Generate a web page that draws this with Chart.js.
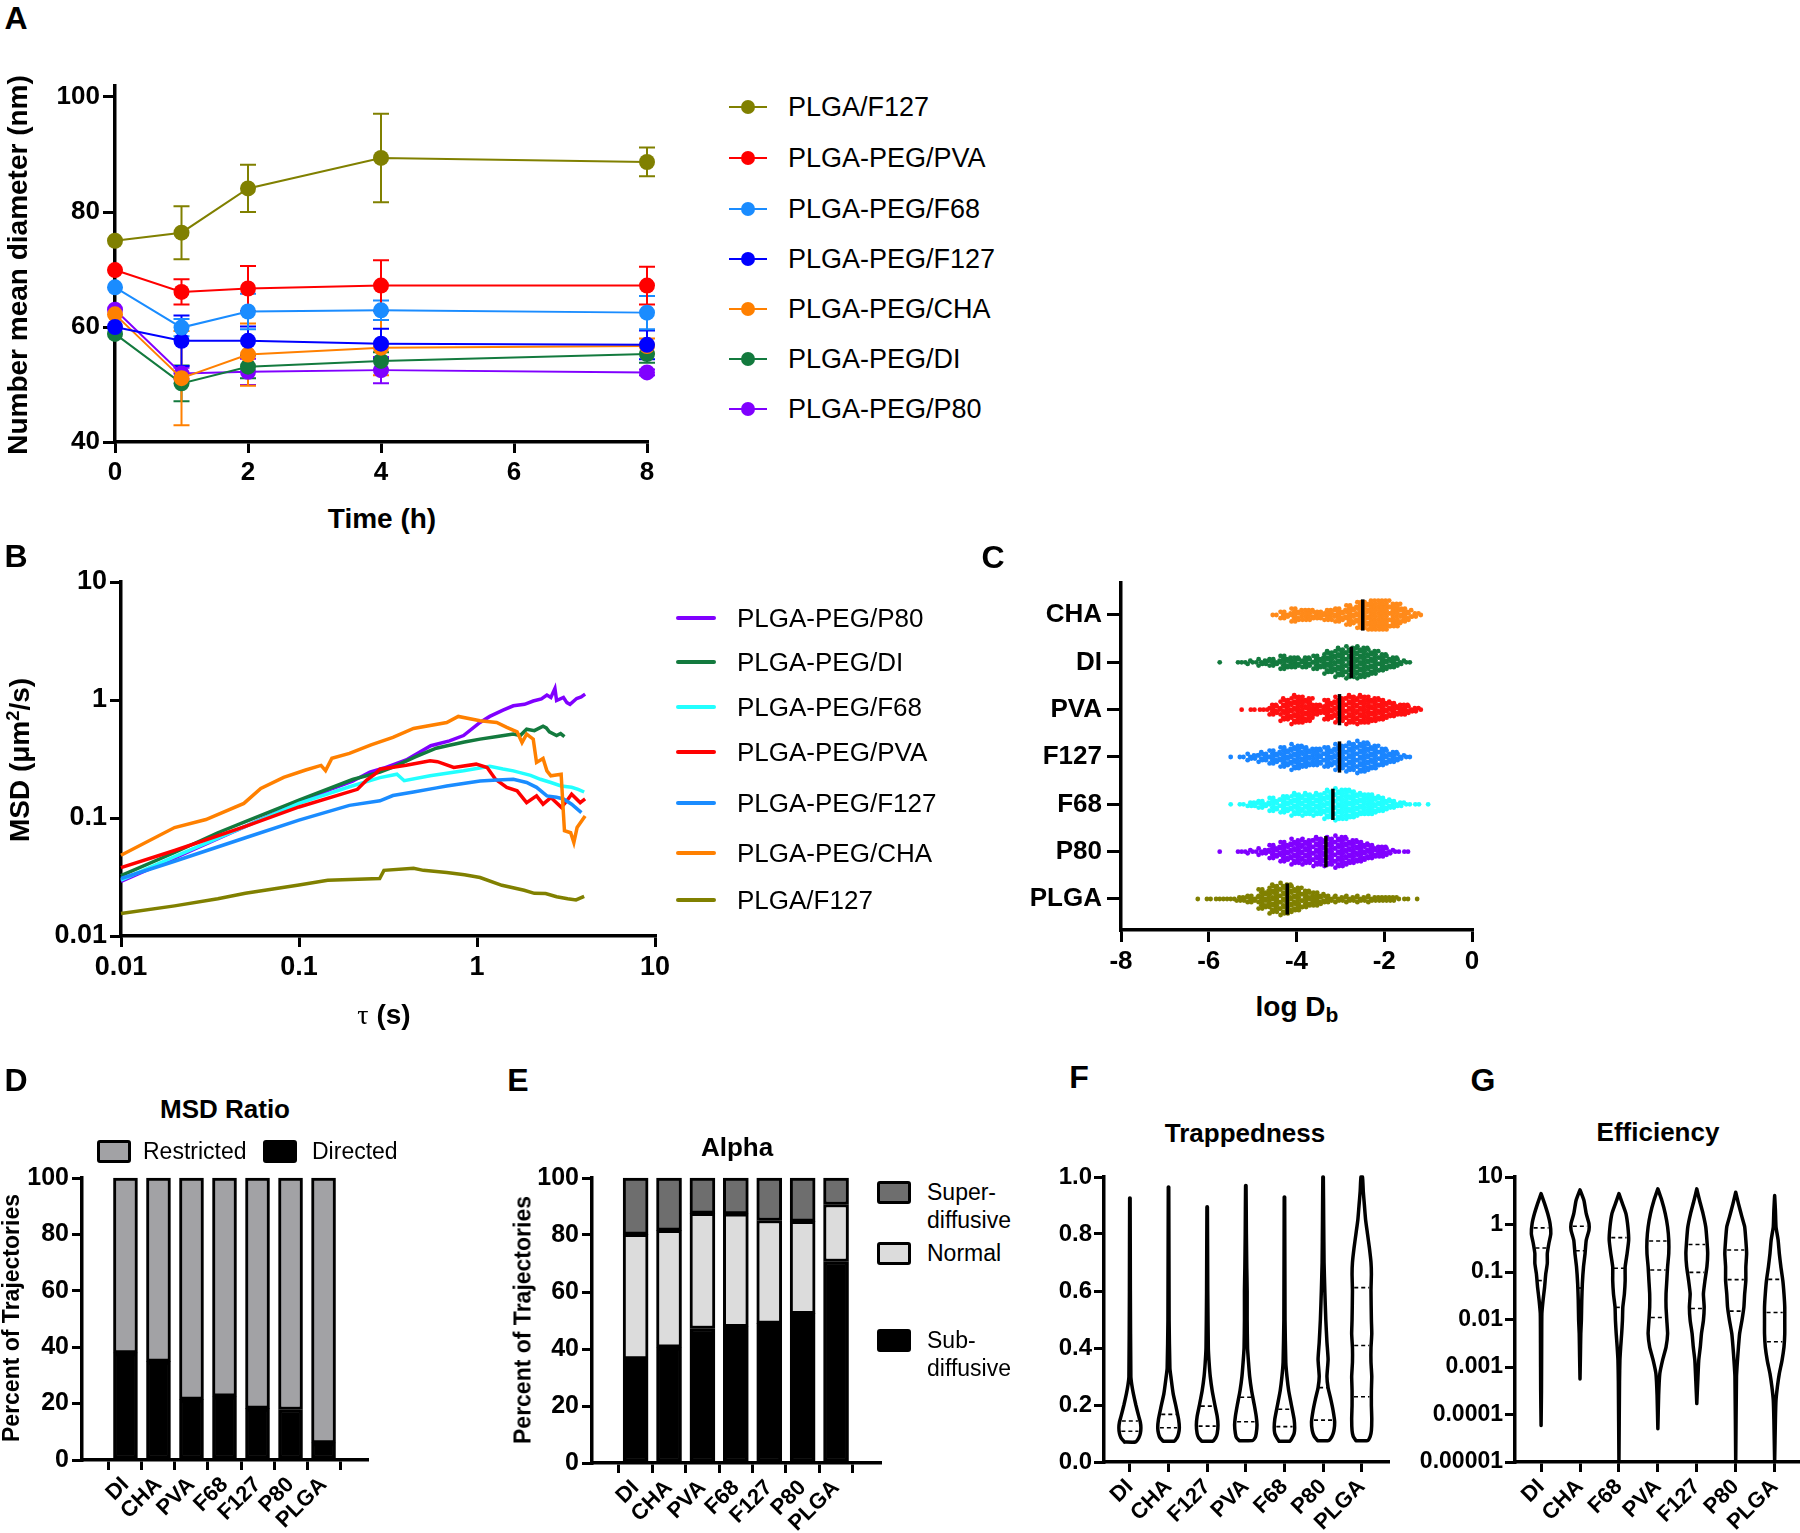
<!DOCTYPE html>
<html><head><meta charset="utf-8">
<script src="https://cdn.jsdelivr.net/npm/chart.js@4.4.1/dist/chart.umd.min.js"></script>
<style>
body{margin:0;background:#fff;}
#page{position:relative;width:1800px;height:1533px;overflow:hidden;background:#fff;font-family:'Liberation Sans',Arial,Helvetica,sans-serif;color:#000;}
canvas{position:absolute;}
</style></head><body><div id="page">
<canvas id="cA"></canvas><canvas id="cB"></canvas><canvas id="cC"></canvas>
<canvas id="cD"></canvas><canvas id="cE"></canvas><canvas id="cF"></canvas><canvas id="cG"></canvas>
</div>
<script>
// ---------------- DATA ----------------
// Panel A
const timeH = [0, 1, 2, 4, 8];
const seriesA = ['PLGA/F127','PLGA-PEG/PVA','PLGA-PEG/F68','PLGA-PEG/F127','PLGA-PEG/CHA','PLGA-PEG/DI','PLGA-PEG/P80'];
const meanPLGA_F127 = [75.0, 76.4, 84.1, 89.4, 88.7];
const meanPEG_PVA   = [69.9, 66.1, 66.7, 67.2, 67.2];
const meanPEG_F68   = [66.9, 59.9, 62.7, 62.9, 62.5];
const meanPEG_F127  = [60.0, 57.6, 57.6, 57.1, 56.9];
const meanPEG_CHA   = [62.2, 51.1, 55.2, 56.4, 56.7];
const meanPEG_DI    = [58.8, 50.2, 53.1, 54.1, 55.3];
const meanPEG_P80   = [63.0, 51.9, 52.2, 52.5, 52.1];
const errPLGA_F127 = [0, 4.6, 4.1, 7.7, 2.5];
const errPEG_PVA   = [0, 2.2, 3.9, 4.4, 3.3];
const errPEG_F68   = [0, 1.5, 3.1, 1.7, 2.9];
const errPEG_F127  = [0, 4.4, 2.5, 2.6, 2.5];
const errPEG_CHA   = [0, 8.2, 5.4, 4.8, 1.3];
const errPEG_DI    = [0, 3.1, 2.0, 1.5, 1.5];
const errPEG_P80   = [0, 1.0, 2.3, 2.3, 0.5];
const yTicksA = [40, 60, 80, 100];
const xTicksA = [0, 2, 4, 6, 8];

// Panel B (tau in s, MSD in um^2/s)
const seriesB = ['PLGA-PEG/P80','PLGA-PEG/DI','PLGA-PEG/F68','PLGA-PEG/PVA','PLGA-PEG/F127','PLGA-PEG/CHA','PLGA/F127'];
const tauP80 = [0.01,0.02,0.05,0.1,0.15,0.2,0.25,0.3,0.4,0.55,0.7,0.84,1.04,1.18,1.4,1.6,1.85,2.07,2.3,2.47,2.6,2.74,2.8,3.06,3.2,3.33,3.63,3.85,4.05];
const msdP80 = [0.029,0.046,0.085,0.135,0.175,0.205,0.245,0.265,0.31,0.41,0.45,0.50,0.645,0.726,0.82,0.893,0.92,0.98,1.02,1.10,1.05,1.25,0.99,1.05,0.95,0.92,1.03,1.06,1.12];
const tauDI = [0.01,0.02,0.035,0.05,0.1,0.2,0.285,0.337,0.45,0.59,0.68,0.85,1.04,1.3,1.6,1.75,1.9,2.1,2.35,2.45,2.55,2.8,2.95,3.1];
const msdDI = [0.0325,0.051,0.075,0.093,0.142,0.212,0.245,0.27,0.33,0.39,0.41,0.44,0.466,0.49,0.514,0.50,0.566,0.55,0.60,0.58,0.537,0.50,0.52,0.49];
const tauF68 = [0.01,0.02,0.05,0.1,0.192,0.285,0.355,0.39,0.545,0.84,1.18,1.4,1.6,2.0,2.27,2.6,2.97,3.4,3.7,4.0];
const msdF68 = [0.0297,0.047,0.085,0.133,0.184,0.22,0.235,0.207,0.228,0.251,0.274,0.26,0.251,0.23,0.213,0.20,0.187,0.182,0.175,0.166];
const tauPVA = [0.01,0.02,0.05,0.1,0.213,0.24,0.27,0.285,0.4,0.545,0.6,0.74,0.99,1.14,1.27,1.47,1.68,1.9,2.16,2.35,2.6,2.98,3.2,3.4,3.8,4.05];
const msdPVA = [0.038,0.053,0.085,0.124,0.175,0.21,0.239,0.259,0.28,0.305,0.30,0.268,0.286,0.268,0.213,0.182,0.17,0.135,0.154,0.131,0.149,0.123,0.14,0.159,0.135,0.145];
const tauF127 = [0.01,0.02,0.05,0.1,0.192,0.285,0.337,0.44,0.593,0.676,1.04,1.3,1.6,1.9,2.16,2.47,2.8,3.06,3.4,3.86];
const msdF127 = [0.0307,0.043,0.068,0.096,0.128,0.14,0.155,0.166,0.18,0.187,0.206,0.21,0.213,0.20,0.182,0.154,0.15,0.145,0.131,0.111];
const tauCHA = [0.01,0.02,0.03,0.049,0.061,0.082,0.109,0.133,0.141,0.153,0.192,0.254,0.337,0.44,0.676,0.785,1.04,1.29,1.47,1.68,1.79,1.9,2.07,2.16,2.35,2.47,2.6,2.97,3.04,3.1,3.36,3.5,3.65,4.05];
const msdCHA = [0.0484,0.083,0.097,0.133,0.178,0.221,0.255,0.279,0.252,0.321,0.353,0.416,0.482,0.574,0.645,0.726,0.667,0.645,0.586,0.537,0.436,0.514,0.466,0.296,0.32,0.251,0.228,0.235,0.127,0.078,0.075,0.062,0.083,0.104];
const tauPLGA = [0.01,0.02,0.035,0.05,0.1,0.145,0.284,0.30,0.44,0.5,0.676,0.85,1.04,1.38,1.84,2.1,2.43,2.8,3.23,3.6,4.0];
const msdPLGA = [0.0155,0.018,0.0207,0.023,0.027,0.0297,0.0307,0.036,0.0375,0.036,0.0345,0.033,0.0313,0.0269,0.0244,0.023,0.0229,0.0215,0.0207,0.0202,0.0217];
const logTicksB = [0.01, 0.1, 1, 10];
const logLabelsB = ['0.01', '0.1', '1', '10'];

// Panel C: log Db swarm, dot counts per 0.25-wide bin starting at binStart
const categoriesC = ['CHA','DI','PVA','F127','F68','P80','PLGA'];
const binStartC = [-4.5, -5.75, -5.25, -5.5, -5.5, -5.75, -6.25];
const countsCHA  = [2,8,14,12,9,12,14,20,27,30,30,24,14,5];
const countsDI   = [1,0,3,4,7,8,14,11,11,14,22,28,31,31,25,17,11,4];
const countsPVA  = [1,2,3,11,22,28,25,11,20,25,28,28,25,20,14,11,5];
const countsF127 = [1,2,7,10,14,20,25,20,17,20,25,28,31,25,17,11,4];
const countsF68  = [1,2,6,8,14,17,22,22,22,28,31,28,22,20,14,8,4,2,1];
const countsP80  = [1,0,3,4,7,14,20,25,25,28,28,31,25,20,14,11,4,2];
const countsPLGA = [1,2,3,3,6,8,20,28,31,25,17,14,8,7,7,7,7,6,5,2,1];
const mediansC = [-2.49, -2.75, -3.02, -3.02, -3.17, -3.33, -4.21];
const xTicksC = [-8, -6, -4, -2, 0];

// Panel D
const categoriesD = ['DI','CHA','PVA','F68','F127','P80','PLGA'];
const directedD   = [38.0, 35.0, 21.5, 22.6, 18.3, 17.9, 6.1];
const restrictedD = [62.0, 65.0, 78.5, 77.4, 81.7, 82.1, 93.9];
// Panel E
const categoriesE = ['DI','CHA','PVA','F68','F127','P80','PLGA'];
const subE    = [36.5, 40.6, 47.2, 47.8, 49.0, 52.4, 70.7];
const normalE = [43.7, 41.0, 40.4, 39.6, 36.1, 32.4, 20.0];
const superE  = [19.8, 18.4, 12.4, 12.6, 14.9, 15.2, 9.3];
const pctTicks = [0, 20, 40, 60, 80, 100];

// Panel F: trappedness violins (value levels bottom->top, relative half-width)
const categoriesF = ['DI','CHA','F127','PVA','F68','P80','PLGA'];
const trapLevels = [
  [0.07,0.085,0.10,0.12,0.14,0.16,0.20,0.24,0.27,0.30,0.60,0.926],
  [0.073,0.085,0.10,0.12,0.15,0.19,0.24,0.29,0.33,0.5,0.965],
  [0.073,0.085,0.10,0.13,0.16,0.20,0.25,0.30,0.35,0.40,0.60,0.895],
  [0.075,0.085,0.10,0.13,0.16,0.20,0.25,0.30,0.35,0.40,0.50,0.60,0.68,0.80,0.97],
  [0.073,0.085,0.10,0.12,0.15,0.20,0.25,0.30,0.35,0.50,0.93],
  [0.075,0.09,0.11,0.14,0.18,0.22,0.26,0.30,0.36,0.42,0.50,0.60,0.70,0.85,1.0],
  [0.075,0.09,0.11,0.15,0.20,0.25,0.30,0.35,0.40,0.45,0.50,0.60,0.66,0.70,0.75,0.80,0.85,0.90,0.95,1.0]
];
const trapDensity = [
  [0.14,0.23,0.27,0.285,0.27,0.23,0.155,0.09,0.05,0.025,0.012,0.006],
  [0.14,0.22,0.26,0.28,0.26,0.2,0.12,0.07,0.035,0.015,0.006],
  [0.14,0.22,0.26,0.28,0.26,0.2,0.13,0.08,0.05,0.03,0.015,0.006],
  [0.17,0.24,0.27,0.29,0.27,0.22,0.15,0.10,0.07,0.045,0.035,0.035,0.025,0.015,0.006],
  [0.14,0.2,0.25,0.265,0.25,0.18,0.11,0.065,0.035,0.015,0.006],
  [0.14,0.23,0.28,0.30,0.26,0.2,0.13,0.10,0.13,0.10,0.07,0.045,0.025,0.015,0.006],
  [0.15,0.22,0.25,0.26,0.25,0.25,0.26,0.24,0.24,0.26,0.25,0.24,0.25,0.24,0.2,0.15,0.1,0.07,0.04,0.02]
];
const trapQuartiles = [[0.108,0.144],[0.12,0.167],[0.126,0.196],[0.141,0.227],[0.124,0.185],[0.147,0.261],[0.229,0.409,0.612]];
const trapTicks = [0, 0.2, 0.4, 0.6, 0.8, 1.0];
const trapLabels = ['0.0','0.2','0.4','0.6','0.8','1.0'];

// Panel G: efficiency violins (log10 levels bottom->top, relative half-width)
const categoriesG = ['DI','CHA','F68','PVA','F127','P80','PLGA'];
const effLogLevels = [
  [-4.23,-3.5,-2.5,-1.88,-1.60,-1.32,-1.04,-0.82,-0.61,-0.40,-0.19,0.02,0.23,0.44,0.65],
  [-3.25,-2.8,-2.3,-2.02,-1.6,-1.25,-0.89,-0.61,-0.33,-0.12,0.02,0.23,0.51,0.73],
  [-5.0,-3.3,-2.86,-2.58,-2.3,-2.02,-1.74,-1.46,-1.18,-0.89,-0.61,-0.33,-0.05,0.23,0.44,0.65],
  [-4.3,-3.6,-3.14,-2.86,-2.58,-2.30,-2.02,-1.74,-1.46,-1.18,-0.89,-0.61,-0.33,-0.05,0.23,0.51,0.75],
  [-3.77,-3.3,-2.86,-2.58,-2.3,-2.02,-1.74,-1.46,-1.18,-0.89,-0.61,-0.33,-0.05,0.23,0.51,0.75],
  [-5.0,-3.2,-2.86,-2.58,-2.3,-2.02,-1.74,-1.46,-1.18,-0.89,-0.61,-0.33,-0.05,0.16,0.44,0.68],
  [-5.0,-4.1,-3.7,-3.42,-3.14,-2.86,-2.58,-2.3,-2.02,-1.74,-1.46,-1.18,-0.89,-0.61,-0.33,-0.05,0.3,0.61]
];
const effDensity = [
  [0.0,0.01,0.015,0.02,0.05,0.09,0.12,0.16,0.16,0.2,0.25,0.23,0.17,0.09,0.0],
  [0.0,0.01,0.02,0.035,0.045,0.06,0.09,0.13,0.16,0.23,0.23,0.16,0.1,0.0],
  [0.0,0.015,0.025,0.045,0.07,0.09,0.1,0.14,0.16,0.16,0.21,0.25,0.23,0.18,0.09,0.0],
  [0.0,0.02,0.05,0.12,0.21,0.25,0.23,0.21,0.21,0.23,0.25,0.28,0.28,0.25,0.19,0.1,0.0],
  [0.0,0.025,0.05,0.09,0.12,0.17,0.19,0.17,0.21,0.26,0.28,0.26,0.23,0.16,0.07,0.0],
  [0.0,0.02,0.045,0.07,0.1,0.16,0.21,0.23,0.26,0.26,0.28,0.26,0.23,0.16,0.07,0.0],
  [0.0,0.02,0.035,0.07,0.12,0.19,0.24,0.26,0.26,0.26,0.24,0.21,0.16,0.12,0.09,0.035,0.02,0.0]
];
const effQuartiles = [[0.066,0.32,0.85],[0.046,0.28,0.92],[0.018,0.12,0.53],[0.011,0.11,0.45],[0.017,0.098,0.38],[0.015,0.069,0.29],[0.0034,0.014,0.07]];
const effTicks = [0.00001, 0.0001, 0.001, 0.01, 0.1, 1, 10];
const effLabels = ['0.00001','0.0001','0.001','0.01','0.1','1','10'];

// ---------------- STYLE ----------------
const FONT = "'Liberation Sans', Arial, Helvetica, sans-serif";
const colorsA = ['#808000','#ff0000','#1a8cff','#0000ff','#ff8000','#137a3e','#8000ff'];
const colorsB = ['#8000ff','#137a3e','#22ffff','#ff0000','#1a8cff','#ff8000','#808000'];
const colorsC = ['#ff8a1a','#137a3e','#ff1010','#1a85ff','#22ffff','#8000ff','#808000'];
const page = document.getElementById('page');

function T(html, x, y, size, o = {}) {
  const d = document.createElement('div');
  d.innerHTML = html;
  d.style.cssText = 'position:absolute;left:' + x + 'px;top:' + y + 'px;font-size:' + size + 'px;font-weight:' + (o.w || 'bold') +
    ';white-space:nowrap;line-height:1;transform:translate(' + (o.left ? '0' : '-50%') + ',-50%)' + (o.rot ? ' rotate(-90deg)' : '') + ';';
  page.appendChild(d);
}
function R(x, y, w, h, css) {
  const d = document.createElement('div');
  d.style.cssText = 'position:absolute;box-sizing:border-box;left:' + x + 'px;top:' + y + 'px;width:' + w + 'px;height:' + h + 'px;' + css;
  page.appendChild(d);
}
function scale(o) {
  return {
    type: o.type || 'linear', min: o.min, max: o.max, stacked: o.stacked || false,
    border: {display: true, color: '#000', width: 3.5},
    grid: {display: true, drawOnChartArea: false, drawTicks: true, tickLength: o.tl || 10, tickWidth: 3, tickColor: '#000', color: '#000', lineWidth: 3},
    afterBuildTicks: s => { s.ticks = o.ticks.map(v => ({value: v})); },
    ticks: {color: '#000', font: {family: FONT, size: o.fs, weight: 'bold'}, padding: o.pad === undefined ? 3 : o.pad,
      autoSkip: false, maxRotation: o.rot || 0, minRotation: o.rot || 0, callback: (v, i) => o.labels[i]}
  };
}
function mk(id, box, area, cfg) {
  const cv = document.getElementById(id);
  cv.width = box.w; cv.height = box.h;
  cv.style.left = box.x + 'px'; cv.style.top = box.y + 'px';
  cv.style.width = box.w + 'px'; cv.style.height = box.h + 'px';
  const op = cfg.options;
  Object.assign(op, {responsive: false, animation: false, devicePixelRatio: 1, maintainAspectRatio: false});
  op.layout = {padding: {top: area.t - box.y, right: box.x + box.w - area.r, left: 0, bottom: 0}};
  op.plugins = Object.assign({legend: {display: false}, tooltip: {enabled: false}}, op.plugins || {});
  op.scales.x.afterFit = s => { s.height = box.y + box.h - area.b; };
  op.scales.y.afterFit = s => { s.width = area.l - box.x; };
  return new Chart(cv, cfg);
}

// ---------------- PANEL A ----------------
const meansA = [meanPLGA_F127, meanPEG_PVA, meanPEG_F68, meanPEG_F127, meanPEG_CHA, meanPEG_DI, meanPEG_P80];
const errsA = [errPLGA_F127, errPEG_PVA, errPEG_F68, errPEG_F127, errPEG_CHA, errPEG_DI, errPEG_P80];
const errPlugin = {
  id: 'errbars',
  beforeDatasetsDraw(chart) {
    const {ctx} = chart, x = chart.scales.x, y = chart.scales.y;
    ctx.save(); ctx.lineWidth = 2;
    for (let i = errsA.length - 1; i >= 0; i--) {
      ctx.strokeStyle = colorsA[i];
      errsA[i].forEach((e, j) => {
        if (!e) return;
        const px = x.getPixelForValue(timeH[j]);
        const y1 = y.getPixelForValue(meansA[i][j] - e), y2 = y.getPixelForValue(meansA[i][j] + e);
        ctx.beginPath();
        ctx.moveTo(px, y1); ctx.lineTo(px, y2);
        ctx.moveTo(px - 8, y1); ctx.lineTo(px + 8, y1);
        ctx.moveTo(px - 8, y2); ctx.lineTo(px + 8, y2);
        ctx.stroke();
      });
    }
    ctx.restore();
  }
};
mk('cA', {x: 30, y: 60, w: 650, h: 440}, {l: 115, t: 85.5, r: 647, b: 442}, {
  type: 'scatter',
  data: {datasets: meansA.map((m, i) => ({
    label: seriesA[i], data: m.map((v, j) => ({x: timeH[j], y: v})), showLine: true,
    borderColor: colorsA[i], backgroundColor: colorsA[i], borderWidth: 2, pointRadius: 8, pointBorderWidth: 0, clip: false
  }))},
  options: {scales: {
    x: scale({min: 0, max: 8, ticks: xTicksA, labels: xTicksA.map(String), fs: 26, tl: 11, pad: 4}),
    y: scale({min: 40, max: 102, ticks: yTicksA, labels: yTicksA.map(String), fs: 26, tl: 12, pad: 3})
  }},
  plugins: [errPlugin]
});
T('A', 16, 18, 32);
T('Number mean diameter (nm)', 18, 265, 28, {rot: true});
T('Time (h)', 382, 519, 28);
const legAY = [107, 158, 209, 259, 309, 359, 409];
seriesA.forEach((s, i) => {
  R(729, legAY[i] - 1, 38, 2, 'background:' + colorsA[i] + ';');
  R(741, legAY[i] - 7, 14, 14, 'background:' + colorsA[i] + ';border-radius:50%;');
  T(s, 788, legAY[i], 27, {w: 'normal', left: true});
});

// ---------------- PANEL B ----------------
const tausB = [tauP80, tauDI, tauF68, tauPVA, tauF127, tauCHA, tauPLGA];
const msdsB = [msdP80, msdDI, msdF68, msdPVA, msdF127, msdCHA, msdPLGA];
mk('cB', {x: 30, y: 560, w: 650, h: 440}, {l: 121, t: 582, r: 655, b: 936}, {
  type: 'scatter',
  data: {datasets: msdsB.map((m, i) => ({
    label: seriesB[i], data: m.map((v, j) => ({x: tausB[i][j], y: v})), showLine: true,
    borderColor: colorsB[i], borderWidth: 3.5, pointRadius: 0, tension: 0, clip: false
  })).reverse()},
  options: {scales: {
    x: scale({type: 'logarithmic', min: 0.01, max: 10, ticks: logTicksB, labels: logLabelsB, fs: 27, tl: 11, pad: 4}),
    y: scale({type: 'logarithmic', min: 0.01, max: 10, ticks: logTicksB, labels: logLabelsB, fs: 27, tl: 11, pad: 3})
  }}
});
T('B', 16, 556, 32);
T('MSD (μm<sup style="font-size:0.65em;vertical-align:0.55em;line-height:0">2</sup>/s)', 20, 760, 28, {rot: true});
T('<span style="font-family:\'Liberation Serif\',serif;font-weight:normal">τ</span> (s)', 384, 1015, 28);
const legBY = [618, 662, 707, 752, 803, 853, 900];
seriesB.forEach((s, i) => {
  R(676, legBY[i] - 2, 40, 4, 'background:' + colorsB[i] + ';border-radius:2px;');
  T(s, 737, legBY[i], 26, {w: 'normal', left: true});
});

// ---------------- PANEL C ----------------
const countsC = [countsCHA, countsDI, countsPVA, countsF127, countsF68, countsP80, countsPLGA];
function swarm(start, counts, row) {
  const pts = [], DX = 0.083, DY = 0.0676;
  counts.forEach((n, b) => {
    if (!n) return;
    const cx = start + b * 0.25, cols = Math.min(3, n);
    const base = Math.floor(n / cols), extra = n % cols;
    for (let c = 0; c < cols; c++) {
      const inCol = base + (c < extra ? 1 : 0);
      for (let r = 0; r < inCol; r++) {
        const shift = inCol > 1 ? ((r % 2) ? 0.03 : -0.03) : 0;
        pts.push({x: cx + (c - (cols - 1) / 2) * DX + shift, y: row + (r - (inCol - 1) / 2) * DY});
      }
    }
  });
  return pts;
}
const dsC = [];
categoriesC.forEach((c, i) => {
  const row = 7 - i;
  dsC.push({data: swarm(binStartC[i], countsC[i], row), backgroundColor: colorsC[i], pointRadius: 2.4, pointBorderWidth: 0});
});
categoriesC.forEach((c, i) => {
  const row = 7 - i;
  dsC.push({data: [{x: mediansC[i], y: row - 0.33}, {x: mediansC[i], y: row + 0.33}], showLine: true, borderColor: '#000', borderWidth: 3.5, pointRadius: 0});
});
mk('cC', {x: 1000, y: 560, w: 500, h: 430}, {l: 1121, t: 583, r: 1472, b: 930}, {
  type: 'scatter', data: {datasets: dsC.reverse()},
  options: {scales: {
    x: scale({min: -8, max: 0, ticks: xTicksC, labels: xTicksC.map(String), fs: 26, tl: 12, pad: 4}),
    y: scale({min: 0.345, max: 7.676, ticks: [1, 2, 3, 4, 5, 6, 7], labels: categoriesC.slice().reverse(), fs: 26, tl: 14, pad: 5})
  }}
});
T('C', 993, 557, 32);
T('log D<sub style="font-size:0.75em;vertical-align:-0.3em;line-height:0">b</sub>', 1297, 1007, 28);

// ---------------- PANEL D ----------------
const idx7 = [0, 1, 2, 3, 4, 5, 6];
function barDs(vals, fill) {
  return {data: vals.map((v, i) => ({x: i, y: v})), backgroundColor: fill, borderColor: '#000', borderWidth: 3,
    borderSkipped: false, barThickness: 24, clip: false};
}
mk('cD', {x: 20, y: 1160, w: 370, h: 373}, {l: 82, t: 1177, r: 367, b: 1460}, {
  type: 'bar',
  data: {datasets: [barDs(directedD, '#000'), barDs(restrictedD, '#a2a2a5')]},
  options: {scales: {
    x: scale({min: -0.7, max: 6.7, ticks: idx7, labels: categoriesD, fs: 22, tl: 10, pad: 2, rot: 45, stacked: true}),
    y: scale({min: 0, max: 100, ticks: pctTicks, labels: pctTicks.map(String), fs: 25, tl: 10, pad: 3, stacked: true})
  }}
});
T('D', 16, 1080, 32);
T('MSD Ratio', 225, 1109, 26);
T('Percent of Trajectories', 11, 1318, 23, {rot: true});
R(97, 1140, 34, 23, 'background:#a2a2a5;border:3px solid #000;border-radius:3px;');
T('Restricted', 143, 1151, 23, {w: 'normal', left: true});
R(263, 1140, 34, 23, 'background:#000;border:3px solid #000;border-radius:3px;');
T('Directed', 312, 1151, 23, {w: 'normal', left: true});

// ---------------- PANEL E ----------------
function barDsE(vals, fill) { const d = barDs(vals, fill); d.barThickness = 25; return d; }
mk('cE', {x: 535, y: 1160, w: 350, h: 373}, {l: 592, t: 1177, r: 880, b: 1463}, {
  type: 'bar',
  data: {datasets: [barDsE(subE, '#000'), barDsE(normalE, '#dcdcdc'), barDsE(superE, '#6e6e6e')]},
  options: {scales: {
    x: scale({min: -0.69, max: 6.7, ticks: idx7, labels: categoriesE, fs: 22, tl: 10, pad: 2, rot: 45, stacked: true}),
    y: scale({min: 0, max: 100, ticks: pctTicks, labels: pctTicks.map(String), fs: 25, tl: 10, pad: 3, stacked: true})
  }}
});
T('E', 518, 1080, 32);
T('Alpha', 737, 1147, 26);
T('Percent of Trajectories', 523, 1320, 23, {rot: true});
R(877, 1181, 34, 23, 'background:#6e6e6e;border:3px solid #000;border-radius:3px;');
R(877, 1242, 34, 23, 'background:#dcdcdc;border:3px solid #000;border-radius:3px;');
R(877, 1329, 34, 23, 'background:#000;border:3px solid #000;border-radius:3px;');
T('Super-', 927, 1192, 23, {w: 'normal', left: true});
T('diffusive', 927, 1220, 23, {w: 'normal', left: true});
T('Normal', 927, 1253, 23, {w: 'normal', left: true});
T('Sub-', 927, 1340, 23, {w: 'normal', left: true});
T('diffusive', 927, 1368, 23, {w: 'normal', left: true});

// ---------------- VIOLINS (F, G) ----------------
function interp(levels, dens, v) {
  for (let k = 0; k < levels.length - 1; k++) {
    if (v >= levels[k] && v <= levels[k + 1]) {
      const f = (v - levels[k]) / (levels[k + 1] - levels[k]);
      return dens[k] + f * (dens[k + 1] - dens[k]);
    }
  }
  return 0;
}
function violinSets(levelsAll, densAll, quartAll, toVal, toLevel) {
  const out = [];
  levelsAll.forEach((lv, i) => {
    const w = densAll[i], pts = [];
    for (let k = 0; k < lv.length; k++) pts.push({x: i - w[k], y: toVal(lv[k])});
    for (let k = lv.length - 1; k >= 0; k--) pts.push({x: i + w[k], y: toVal(lv[k])});
    pts.push({x: i - w[0], y: toVal(lv[0])});
    out.push({data: pts, showLine: true, borderColor: '#000', borderWidth: 3.5, pointRadius: 0, tension: 0.15,
      borderJoinStyle: 'round', borderCapStyle: 'round', clip: false});
    quartAll[i].forEach(q => {
      const hw = interp(lv, w, toLevel(q)) * 0.8;
      out.push({data: [{x: i - hw, y: q}, {x: i + hw, y: q}], showLine: true, borderColor: '#000', borderWidth: 1.6,
        borderDash: [4, 3], pointRadius: 0, clip: false});
    });
  });
  return out;
}
mk('cF', {x: 1040, y: 1160, w: 355, h: 373}, {l: 1104, t: 1177, r: 1388, b: 1462}, {
  type: 'scatter',
  data: {datasets: violinSets(trapLevels, trapDensity, trapQuartiles, v => v, v => v)},
  options: {scales: {
    x: scale({min: -0.67, max: 6.68, ticks: idx7, labels: categoriesF, fs: 22, tl: 10, pad: 2, rot: 45}),
    y: scale({min: 0, max: 1, ticks: trapTicks, labels: trapLabels, fs: 24, tl: 10, pad: 2})
  }}
});
T('F', 1079, 1077, 32);
T('Trappedness', 1245, 1133, 26);

mk('cG', {x: 1400, y: 1160, w: 400, h: 373}, {l: 1515, t: 1177, r: 1798, b: 1462}, {
  type: 'scatter',
  data: {datasets: violinSets(effLogLevels, effDensity, effQuartiles, v => Math.pow(10, v), v => Math.log10(v))},
  options: {scales: {
    x: scale({min: -0.67, max: 6.6, ticks: idx7, labels: categoriesG, fs: 22, tl: 10, pad: 2, rot: 45}),
    y: scale({type: 'logarithmic', min: 0.00001, max: 10, ticks: effTicks, labels: effLabels, fs: 23, tl: 10, pad: 2})
  }}
});
T('G', 1483, 1080, 32);
T('Efficiency', 1658, 1132, 26);
</script>
</body></html>
